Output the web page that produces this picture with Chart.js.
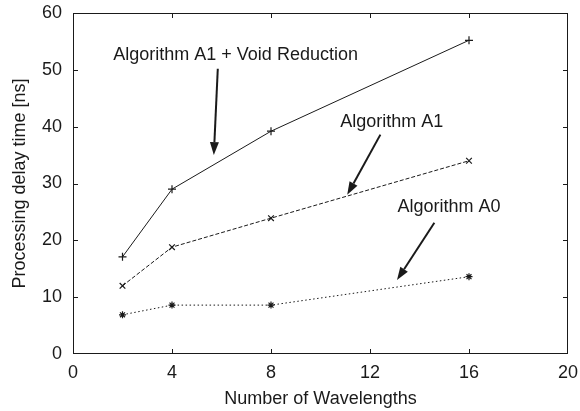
<!DOCTYPE html>
<html>
<head>
<meta charset="utf-8">
<script src="https://cdn.jsdelivr.net/npm/chart.js@4.4.1/dist/chart.umd.min.js"></script>
<style>
  html, body { margin: 0; padding: 0; background: #fff; }
  #wrap { width: 580px; height: 411px; }
</style>
</head>
<body>
<div id="wrap"><canvas id="chart" width="580" height="411"></canvas></div>
<script>
const wavelengths   = [2, 4, 8, 16];
const voidReduction = [17.1, 29.0, 39.2, 55.2];
const algA1         = [12.0, 18.8, 23.9, 34.0];
const algA0         = [6.9, 8.6, 8.6, 13.6];

const xTicks = [0, 4, 8, 12, 16, 20];
const yTicks = [0, 10, 20, 30, 40, 50, 60];

// label text + arrow, in data units
const notes = [
  { text: 'Algorithm A1 + Void Reduction', at: [6.57, 52.55], from: [5.85, 50.2], to: [5.69, 35.0] },
  { text: 'Algorithm A1',                  at: [12.88, 40.8], from: [12.42, 38.6], to: [11.08, 28.0] },
  { text: 'Algorithm A0',                  at: [15.19, 25.9], from: [14.6, 23.1],  to: [13.09, 13.0] },
];

const FONT = { family: '"Liberation Sans", Arial, Helvetica, sans-serif', size: 18 };
const INK = '#1a1a1a';

function pts(ys) {
  return wavelengths.map((x, i) => ({ x: x, y: ys[i] }));
}

function series(ys, style, dash, radius) {
  return {
    data: pts(ys),
    borderColor: INK,
    borderWidth: 1,
    borderDash: dash,
    pointStyle: style,
    pointRadius: radius,
    pointBorderColor: INK,
    pointBackgroundColor: INK,
    pointBorderWidth: 1.2,
    tension: 0,
    fill: false,
  };
}

const framePlugin = {
  id: 'frame',
  beforeDatasetsDraw(chart) {
    const { ctx, chartArea: a, scales: { x, y } } = chart;
    ctx.save();
    ctx.strokeStyle = INK;
    ctx.lineWidth = 1;
    ctx.strokeRect(a.left + 0.5, a.top + 0.5, a.right - a.left - 1, a.bottom - a.top - 1);
    ctx.beginPath();
    xTicks.slice(1, -1).forEach(v => {
      const px = Math.round(x.getPixelForValue(v)) + 0.5;
      ctx.moveTo(px, a.bottom); ctx.lineTo(px, a.bottom - 5);
      ctx.moveTo(px, a.top);    ctx.lineTo(px, a.top + 5);
    });
    yTicks.slice(1, -1).forEach(v => {
      const py = Math.round(y.getPixelForValue(v)) + 0.5;
      ctx.moveTo(a.left, py);  ctx.lineTo(a.left + 5, py);
      ctx.moveTo(a.right, py); ctx.lineTo(a.right - 5, py);
    });
    ctx.stroke();
    ctx.restore();
  },
  afterDraw(chart) {
    const { ctx, scales: { x, y } } = chart;
    ctx.save();
    ctx.fillStyle = INK;
    ctx.strokeStyle = INK;
    ctx.font = FONT.size + 'px ' + FONT.family;
    ctx.textAlign = 'center';
    ctx.textBaseline = 'middle';
    notes.forEach(n => {
      ctx.fillText(n.text, x.getPixelForValue(n.at[0]), y.getPixelForValue(n.at[1]));
      const x0 = x.getPixelForValue(n.from[0]), y0 = y.getPixelForValue(n.from[1]);
      const x1 = x.getPixelForValue(n.to[0]),   y1 = y.getPixelForValue(n.to[1]);
      const ang = Math.atan2(y1 - y0, x1 - x0);
      const len = 13, half = 4.5;
      const bx = x1 - len * Math.cos(ang), by = y1 - len * Math.sin(ang);
      ctx.lineWidth = 2;
      ctx.beginPath();
      ctx.moveTo(x0, y0);
      ctx.lineTo(bx, by);
      ctx.stroke();
      ctx.beginPath();
      ctx.moveTo(x1, y1);
      ctx.lineTo(bx + half * Math.sin(ang), by - half * Math.cos(ang));
      ctx.lineTo(bx - half * Math.sin(ang), by + half * Math.cos(ang));
      ctx.closePath();
      ctx.fill();
    });
    ctx.restore();
  }
};

const chart = new Chart(document.getElementById('chart'), {
  type: 'line',
  data: {
    datasets: [
      series(voidReduction, 'cross', [], 4),
      series(algA1, 'crossRot', [4, 2], 4),
      series(algA0, 'star', [1.5, 2.5], 3.5),
    ]
  },
  options: {
    responsive: false,
    devicePixelRatio: 1,
    animation: false,
    layout: { padding: { top: 13, right: 12, left: 0, bottom: 0 } },
    plugins: { legend: { display: false }, tooltip: { enabled: false } },
    scales: {
      x: {
        type: 'linear',
        min: 0, max: 20,
        afterFit(s) { s.height = 57; s.paddingLeft = 0; s.paddingRight = 0; },
        afterBuildTicks(s) { s.ticks = xTicks.map(v => ({ value: v })); },
        grid: { display: false, drawTicks: false },
        border: { display: false },
        ticks: { color: INK, font: FONT, padding: 8, maxRotation: 0 },
        title: { display: true, text: 'Number of Wavelengths', color: INK, font: FONT, padding: { top: 0, bottom: 1 } }
      },
      y: {
        type: 'linear',
        min: 0, max: 60,
        afterFit(s) { s.width = 73; s.paddingTop = 0; s.paddingBottom = 0; },
        afterBuildTicks(s) { s.ticks = yTicks.map(v => ({ value: v })); },
        grid: { display: false, drawTicks: false },
        border: { display: false },
        ticks: { color: INK, font: FONT, padding: 11 },
        title: { display: true, text: 'Processing delay time [ns]', color: INK, font: FONT, padding: { top: 9, bottom: 0 } }
      }
    }
  },
  plugins: [framePlugin]
});
</script>
</body>
</html>
